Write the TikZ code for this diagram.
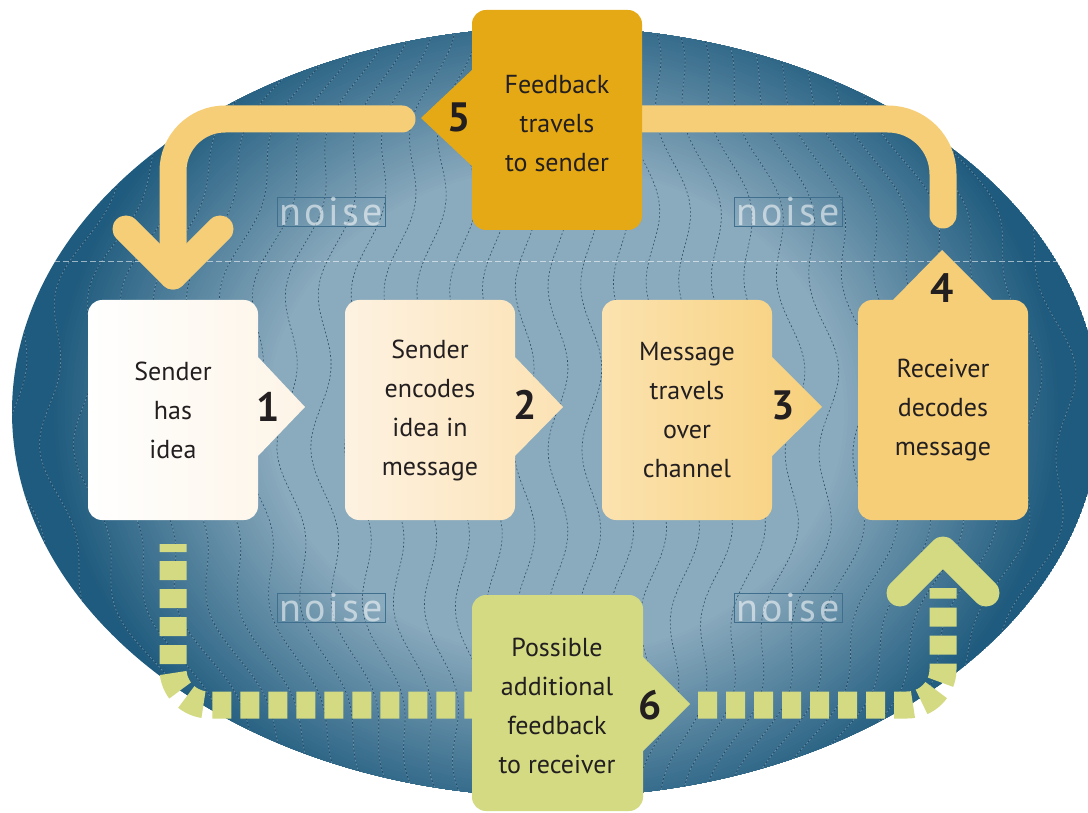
\documentclass[tikz,border=0pt]{standalone}
\usepackage{fontspec}
\setmainfont{PT Sans}
\newfontfamily\noisefont[LetterSpace=8]{PT Sans}
\usetikzlibrary{calc}

\definecolor{ink}{HTML}{231F20}
\definecolor{fieldlight}{HTML}{8AAABD}
\definecolor{fielddark}{HTML}{1F5B7E}
\definecolor{wavedark}{HTML}{1F3E55}
\definecolor{wavelight}{HTML}{8DAEC2}
\definecolor{noiseedge}{HTML}{3F6F8D}
\definecolor{goldbox}{HTML}{E4A914}
\definecolor{peach}{HTML}{F6CE77}
\definecolor{lime}{HTML}{D3DA82}
\definecolor{creamA}{HTML}{FDF4E6}
\definecolor{creamB}{HTML}{FDF2E1}
\definecolor{creamC}{HTML}{FCE2B4}
\definecolor{sandA}{HTML}{FBE2AF}
\definecolor{sandB}{HTML}{F7D07B}

\tikzset{
  lbl/.style={align=center, text=ink, inner sep=0pt,
    font=\fontsize{26}{39}\selectfont},
  num/.style={text=ink, inner sep=0pt, font=\bfseries\fontsize{41}{41}\selectfont},
  noisetag/.style={draw=noiseedge, line width=0.8pt, inner sep=0pt,
    minimum width=108pt, minimum height=29pt, text=white, text opacity=0.55,
    font=\noisefont\fontsize{40}{40}\selectfont},
  wavedk/.style={draw=wavedark, line width=0.6pt, opacity=0.85,
    dash pattern=on 2pt off 2pt},
  wavelt/.style={draw=wavelight, line width=0.6pt, opacity=0.6,
    dash pattern=on 2pt off 2pt, dash phase=2pt},
  feedback/.style={draw=peach, line width=27pt, line cap=round, line join=round},
  extra/.style={draw=lime, line width=27pt, dash pattern=on 19pt off 9pt},
  extrahead/.style={draw=lime, line width=27pt, line cap=round, line join=round},
}

\begin{document}
\begin{tikzpicture}[x=1pt, y=-1pt]
\useasboundingbox (0,0) rectangle (1088,813);
\fill[white] (0,0) rectangle (1088,813);

% the noisy channel: deep blue rim fading to a light centre
\begin{scope}
  \clip (556,412) ellipse [x radius=544, y radius=385];
  \fill[fielddark] (556,412) ellipse [x radius=544, y radius=385];
  \foreach \i in {1,...,60} {
    \pgfmathsetmacro\f{0.93-0.40*\i/60}
    \pgfmathsetmacro\p{100*\i/60}
    \pgfmathsetmacro\rx{544*\f}
    \pgfmathsetmacro\ry{385*\f*1.2}
    \fill[fieldlight!\p!fielddark] (556,412) ellipse [x radius=\rx, y radius=\ry];
  }
  \foreach \xo in {-20,14,...,1130} {
    \draw[wavedk] plot[domain=20:808, samples=80, variable=\t]
      ({556+(\xo-556)*(1-0.35*((\t-412)/385)^2)+10*sin(2.2*\t)}, \t);
    \draw[wavelt] plot[domain=20:808, samples=80, variable=\t]
      ({556+(\xo-556)*(1-0.35*((\t-412)/385)^2)+10*sin(2.2*\t)}, \t);
  }
  \draw[white, opacity=0.55, line width=0.8pt, dash pattern=on 6pt off 3pt]
    (0,261) -- (1088,261);
\end{scope}

\node[noisetag] (nzA) at (331,211.5) {noise};
\node[noisetag] (nzB) at (788,211.5) {noise};
\node[noisetag] (nzC) at (331,607.5) {noise};
\node[noisetag] (nzD) at (788,607.5) {noise};

% feedback to sender (solid)
\coordinate (fbL0) at (402,119);
\coordinate (fbL1) at (173,119);
\coordinate (fbTip) at (173,276);
\coordinate (fbArmA) at (126,229);
\coordinate (fbArmB) at (220,229);
\coordinate (fbR0) at (600,119);
\coordinate (fbR1) at (943,119);
\coordinate (fbR2) at (943,215);
\draw[feedback, rounded corners=52pt] (fbL0) -- (fbL1) -- (fbTip);
\draw[feedback] (fbArmA) -- (fbTip) -- (fbArmB);
\draw[feedback, rounded corners=55pt] (fbR0) -- (fbR1) -- (fbR2);

% additional feedback to receiver (dashed)
\coordinate (exL0) at (173,544);
\coordinate (exL1) at (173,705);
\coordinate (exL2) at (480,705);
\coordinate (exR0) at (698,705);
\coordinate (exR1) at (943,705);
\coordinate (exR2) at (943,588);
\coordinate (exTip) at (943,550);
\coordinate (exArmA) at (900,593);
\coordinate (exArmB) at (986,593);
\draw[extra, dash phase=11pt, rounded corners=36pt] (exL0) -- (exL1) -- (exL2);
\draw[extra, rounded corners=36pt] (exR0) -- (exR1) -- (exR2);
\draw[extrahead] (exArmA) -- (exTip) -- (exArmB);

% step boxes with their pointers
\shade[left color=white, right color=creamA]
  (88,314) arc[start angle=180, end angle=270, radius=14] -- (244,300)
  arc[start angle=270, end angle=360, radius=14] -- (258,357) -- (305,407) -- (258,456)
  -- (258,506) arc[start angle=0, end angle=90, radius=14] -- (102,520)
  arc[start angle=90, end angle=180, radius=14] -- cycle;
\shade[left color=creamB, right color=creamC]
  (345,314) arc[start angle=180, end angle=270, radius=14] -- (501,300)
  arc[start angle=270, end angle=360, radius=14] -- (515,357) -- (563,407) -- (515,456)
  -- (515,506) arc[start angle=0, end angle=90, radius=14] -- (359,520)
  arc[start angle=90, end angle=180, radius=14] -- cycle;
\shade[left color=sandA, right color=sandB]
  (602,314) arc[start angle=180, end angle=270, radius=14] -- (758,300)
  arc[start angle=270, end angle=360, radius=14] -- (772,357) -- (822,407) -- (772,456)
  -- (772,506) arc[start angle=0, end angle=90, radius=14] -- (616,520)
  arc[start angle=90, end angle=180, radius=14] -- cycle;
\fill[peach]
  (858,314) arc[start angle=180, end angle=270, radius=14] -- (893,300) -- (942,250)
  -- (992,300) -- (1014,300) arc[start angle=270, end angle=360, radius=14]
  -- (1028,506) arc[start angle=0, end angle=90, radius=14] -- (872,520)
  arc[start angle=90, end angle=180, radius=14] -- cycle;
\fill[goldbox]
  (472,24) arc[start angle=180, end angle=270, radius=14] -- (628,10)
  arc[start angle=270, end angle=360, radius=14] -- (642,216)
  arc[start angle=0, end angle=90, radius=14] -- (486,230)
  arc[start angle=90, end angle=180, radius=14] -- (472,166) -- (421,118) -- (472,70) -- cycle;
\fill[lime]
  (472,609) arc[start angle=180, end angle=270, radius=14] -- (629,595)
  arc[start angle=270, end angle=360, radius=14] -- (643,657) -- (690,704) -- (643,751)
  -- (643,797) arc[start angle=0, end angle=90, radius=14] -- (486,811)
  arc[start angle=90, end angle=180, radius=14] -- cycle;

% texts
\node[lbl] (s1) at (173,410) {Sender\\has\\idea};
\node[lbl] (s2) at (430,410) {Sender\\encodes\\idea in\\message};
\node[lbl] (s3) at (687,410) {Message\\travels\\over\\channel};
\node[lbl] (s4) at (943,410) {Receiver\\decodes\\message};
\node[lbl] (s5) at (557,124) {Feedback\\travels\\to sender};
\node[lbl] (s6) at (557,706) {Possible\\additional\\feedback\\to receiver};

\node[num] (k1) at (268,407) {1};
\node[num] (k2) at (525,405) {2};
\node[num] (k3) at (783,405) {3};
\node[num] (k4) at (942,288) {4};
\node[num] (k5) at (459,117) {5};
\node[num] (k6) at (650,705) {6};
\end{tikzpicture}
\end{document}
